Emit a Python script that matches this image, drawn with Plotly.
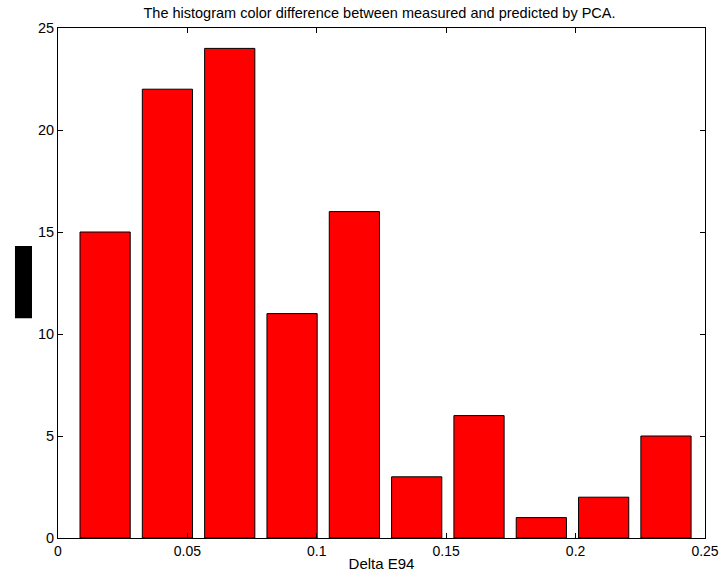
import plotly.graph_objects as go

bin_centers = [0.0182 + i * 0.02408 for i in range(10)]
counts = [15, 22, 24, 11, 16, 3, 6, 1, 2, 5]
bar_width = 0.0194
x_ticks = [0, 0.05, 0.1, 0.15, 0.2, 0.25]
x_tick_labels = ["0", "0.05", "0.1", "0.15", "0.2", "0.25"]
y_ticks = [0, 5, 10, 15, 20, 25]

FAM = "Liberation Sans, Arial, sans-serif"

fig = go.Figure()
fig.add_trace(go.Bar(
    x=bin_centers, y=counts, width=bar_width,
    marker=dict(color="#ff0000", line=dict(color="black", width=1)),
))

fig.update_layout(
    width=720, height=575,
    margin=dict(l=58, r=15, t=28, b=37, autoexpand=False),
    paper_bgcolor="white", plot_bgcolor="white",
    showlegend=False,
    font=dict(family=FAM, size=14, color="black"),
    title=dict(text="The histogram color difference between measured and predicted by PCA.",
               x=379.5 / 720, xanchor="center", y=1 - 13 / 575, yanchor="middle",
               font=dict(family=FAM, size=14.5, color="black")),
    xaxis=dict(range=[0, 0.25], tickvals=x_ticks, ticktext=x_tick_labels,
               ticks="inside", ticklen=5, tickcolor="black", mirror="ticks",
               showline=True, linecolor="black", linewidth=1, showgrid=False,
               zeroline=False, automargin=False, tickfont=dict(size=14),
               title=dict(text="Delta E94", standoff=0,
                          font=dict(family=FAM, size=15, color="black"))),
    yaxis=dict(range=[0, 25], tickvals=y_ticks, ticks="inside", ticklen=5,
               tickcolor="black", mirror="ticks", showline=True, linecolor="black",
               linewidth=1, showgrid=False, zeroline=False, automargin=False,
               tickfont=dict(size=14.5)),
    shapes=[dict(type="rect", xref="paper", yref="paper",
                 x0=-0.0665, x1=-0.0402, y0=0.431, y1=0.5725,
                 fillcolor="black", line=dict(width=0))],
)
fig.write_html("out.html")
